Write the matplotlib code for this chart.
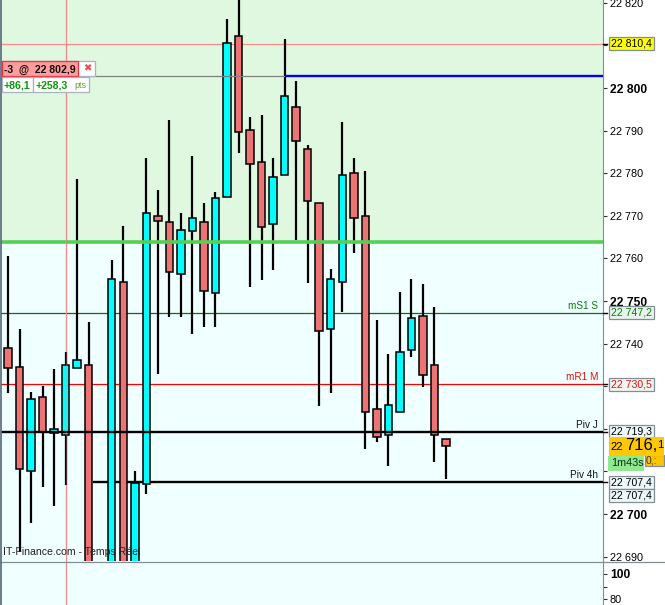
import matplotlib
matplotlib.use("Agg")
import matplotlib.pyplot as plt
from matplotlib.patches import Rectangle

plt.rcParams["font.family"] = ["Liberation Sans", "DejaVu Sans"]

# prices, None = candle not visible
OPENS = [22739.0, 22734.5, 22710.1, 22727.5, 22719.0, 22718.5, 22734.3, 22735.0, None,
         22685.0, 22754.5, 22685.0, 22707.0, 22770.0, 22768.5, 22756.3, 22766.4, 22768.5,
         22751.9, 22774.4, 22812.2, 22790.1, 22782.6, 22768.1, 22779.6, 22795.5, 22785.7,
         22773.0, 22743.4, 22754.5, 22780.0, 22770.0, 22724.6, 22718.5, 22723.9, 22738.5,
         22746.5, 22735.0, 22717.6]
HIGHS = [22760.6, 22743.4, 22728.6, 22730.0, 22734.0, 22738.0, 22778.6, 22745.1, None,
         22759.6, 22767.6, 22710.1, 22783.6, 22776.1, 22792.5, 22770.7, 22784.0, 22773.0,
         22775.6, 22816.2, 22825.0, 22793.2, 22793.7, 22783.6, 22811.5, 22801.6, 22786.6,
         22773.0, 22757.5, 22792.0, 22783.6, 22780.5, 22745.5, 22737.6, 22752.1, 22755.2,
         22754.0, 22748.6, 22717.6]
LOWS = [22728.4, 22691.1, 22697.9, 22706.3, 22701.9, 22706.8, 22734.3, 22685.0, None,
        22685.0, 22685.0, 22685.0, 22704.7, 22732.9, 22746.2, 22746.2, 22742.3, 22743.9,
        22743.9, 22774.4, 22784.7, 22753.3, 22754.9, 22757.3, 22779.6, 22764.3, 22754.2,
        22725.4, 22728.4, 22747.4, 22761.3, 22715.3, 22716.9, 22711.3, 22723.9, 22736.9,
        22729.8, 22712.2, 22708.2]
CLOSES = [22734.3, 22710.6, 22726.9, 22719.2, 22720.0, 22735.0, 22736.2, 22685.0, None,
          22755.2, 22685.0, 22707.3, 22770.7, 22768.8, 22756.8, 22766.7, 22769.5, 22752.3,
          22774.2, 22810.6, 22789.7, 22782.2, 22767.4, 22779.1, 22798.1, 22787.6, 22773.5,
          22743.0, 22755.2, 22779.6, 22769.5, 22723.9, 22718.1, 22725.6, 22738.0, 22746.0,
          22732.6, 22718.5, 22716.0]

PRICE_TICKS = [22690, 22700, 22710, 22720, 22730, 22740, 22750, 22760, 22770, 22780, 22790, 22800, 22810, 22820]
TICK_LABELS = {22690: "22 690", 22700: "22 700", 22740: "22 740", 22750: "22 750", 22760: "22 760",
               22770: "22 770", 22780: "22 780", 22790: "22 790", 22800: "22 800", 22820: "22 820"}
BOLD_TICKS = [22700, 22750, 22800]

ZONE_LEVEL = 22763.9
LEVEL_BOXES = [(22810.4, "22 810,4", "#000000", "#FFFF00"),
               (22747.2, "22 747,2", "#0A7A0A", "#E8F5EC"),
               (22730.5, "22 730,5", "#E81010", "#EEF6F2"),
               (22719.3, "22 719,3", "#000000", "#EEF8FA"),
               (22707.4, "22 707,4", "#000000", "#EEF8FA")]
ENTRY_PRICE = 22802.9
PIVOT_J = 22719.3
PIVOT_4H = 22707.4

ZONE_COL = "#E0F7E0"
BG_COL = "#F0FFFF"
UP_COL = "#00FFFF"
DOWN_COL = "#EC7474"
GREY = "#7F8F95"

W, H = 665, 605
fig = plt.figure(figsize=(W / 100, H / 100), dpi=100, facecolor="white")


def to_axes(x0, y0, x1, y1):
    return [x0 / W, 1 - y1 / H, (x1 - x0) / W, (y1 - y0) / H]


ax = fig.add_axes(to_axes(1, 0, 603, 561), facecolor=BG_COL)
ax.set_xlim(-0.607, 51.62)
ax.set_ylim(22688.97, 22820.66)
ax.axhspan(ZONE_LEVEL, 22820.66, color=ZONE_COL, lw=0, zorder=0)

# levels under the candles
ax.axhline(22810.4, color="#FF8C8C", lw=0.9, zorder=1)
ax.axhline(22747.2, color="#0A6E0A", lw=0.9, zorder=1)
ax.axhline(22730.5, color="#FF0000", lw=0.9, zorder=1)
ax.hlines(PIVOT_4H, 7.37, 51.62, color="black", lw=1.7, zorder=1)
ax.axvline(5, color="#F08C8C", lw=0.9, zorder=1)

for i in range(len(OPENS)):
    if OPENS[i] is None:
        continue
    ax.vlines(i, LOWS[i], HIGHS[i], color="black", lw=1.6, zorder=2)
    col = UP_COL if CLOSES[i] >= OPENS[i] else DOWN_COL
    ax.bar(i, abs(CLOSES[i] - OPENS[i]), bottom=min(OPENS[i], CLOSES[i]), width=0.65,
           color=col, edgecolor="black", lw=1.1, zorder=3)

# levels over the candles
ax.axhline(ZONE_LEVEL, color="#55D055", lw=2.6, zorder=4)
ax.axhline(PIVOT_J, color="black", lw=1.7, zorder=4)
ax.hlines(ENTRY_PRICE, -0.607, 24, color="#808080", lw=0.9, zorder=4)
ax.hlines(ENTRY_PRICE, 24, 51.62, color="#0000FF", lw=1.7, zorder=4)
ax.axvline(5, color="#F08C8C", lw=0.9, alpha=0.3, zorder=5)

ax.set_xticks([])
ax.yaxis.tick_right()
ax.set_yticks(PRICE_TICKS)
ax.set_yticklabels([TICK_LABELS.get(p, "") for p in PRICE_TICKS])
ax.tick_params(axis="y", length=3, width=0.8, color="#303030", pad=2, labelsize=7.8)
for p, lab in zip(PRICE_TICKS, ax.get_yticklabels()):
    if p in BOLD_TICKS:
        lab.set_fontweight("bold")
        lab.set_fontsize(8.7)
for side in ["top", "bottom", "left"]:
    ax.spines[side].set_visible(False)
ax.spines["right"].set_color(GREY)

ytrans = ax.get_yaxis_transform()
for price, txt, col in [(22747.2, "mS1 S", "#0A7A0A"), (22730.5, "mR1 M", "#E81010"),
                        (22719.3, "Piv J", "#101010"), (22707.4, "Piv 4h", "#101010")]:
    ax.text(0.992, price + 0.5, txt, color=col, fontsize=7.2, ha="right", va="bottom",
            transform=ytrans, zorder=6)
ax.text(0.003, 22691.0, "IT-Finance.com - Temps Réel", color="#222222", fontsize=7.6, va="center",
        transform=ytrans, zorder=6)

# lower panel
ax2 = fig.add_axes(to_axes(1, 561, 603, 605), facecolor=BG_COL)
ax2.set_xlim(-0.607, 51.62)
ax2.set_ylim(75.2, 110.4)
ax2.axvline(5, color="#F08C8C", lw=0.9)
ax2.set_xticks([])
ax2.yaxis.tick_right()
ax2.set_yticks([80, 90, 100])
ax2.set_yticklabels(["80", "", "100"])
ax2.tick_params(axis="y", length=3, width=0.8, color="#303030", pad=2, labelsize=7.8)
ax2.get_yticklabels()[2].set_fontweight("bold")
ax2.get_yticklabels()[2].set_fontsize(8.7)
for side in ["top", "bottom", "left"]:
    ax2.spines[side].set_visible(False)
ax2.spines["right"].set_color(GREY)

# overlay in pixels for the boxes and the order tag
ui = fig.add_axes([0, 0, 1, 1], facecolor="none", zorder=10)
ui.set_xlim(0, W)
ui.set_ylim(H, 0)
ui.axis("off")


def box(x0, y0, x1, y1, face, edge=GREY, lw=0.9):
    ui.add_patch(Rectangle((x0, y0), x1 - x0, y1 - y0, facecolor=face, edgecolor=edge, lw=lw))


ui.plot([0, W], [561.5, 561.5], color=GREY, lw=0.9)
ui.plot([0.8, 0.8], [0, H], color="#50687A", lw=1.2)


def price_y(price):
    return 88 + (22800 - price) * 4.26


for price, txt, col, face in LEVEL_BOXES:
    y = price_y(price)
    box(608.5, y - 6.5, 654, y + 6.5, face)
    ui.text(611, y, txt, color=col, fontsize=7.6, va="center")
    ui.plot([603, 607], [y, y], color="black", lw=1.0)
y = price_y(22707.4) + 13
box(608.5, y - 6.5, 654, y + 6.5, "#EEF8FA")
ui.text(611, y, "22 707,4", fontsize=7.6, va="center")

# current price
box(645, 455, 664, 466, "#FFC400", edge=GREY)
ui.text(646, 465.5, "0,:", fontsize=7.5, va="bottom", color="#333333")
box(609, 436.5, 664, 455.5, "#FFC800", edge="none")
ui.text(610, 447, "22", fontsize=8, va="center")
ui.text(625, 446, "716,", fontsize=12, va="center")
ui.text(657.5, 445, "1", fontsize=8, va="center")
box(608, 456, 644, 471, "#90E890", edge="none")
ui.text(611, 463.5, "1m43s", fontsize=7.8, va="center", color="#103010")

# order tag
box(2, 61, 95, 76, "white", edge="#A8B4BC")
box(2, 61, 78, 76, "#FF9C9C", edge="#F03040")
ui.text(4.5, 69.5, "-3  @  22 802,9", fontsize=7.6, fontweight="bold", va="center", color="#111111")
ui.text(87, 68.5, "\u2716", fontsize=7.2, ha="center", va="center", color="#E05050", family="DejaVu Sans")
box(2, 77, 33, 92, "white", edge="#A8B4BC")
box(33, 77, 89, 92, "white", edge="#A8B4BC")
ui.text(4, 85, "+86,1", fontsize=7.6, fontweight="bold", va="center", color="#0A960A")
ui.text(36, 85, "+258,3", fontsize=7.6, fontweight="bold", va="center", color="#0A960A")
ui.text(74, 86, "pts", fontsize=6.5, va="center", color="#5FA02F")

fig.savefig("out.png", dpi=100)
